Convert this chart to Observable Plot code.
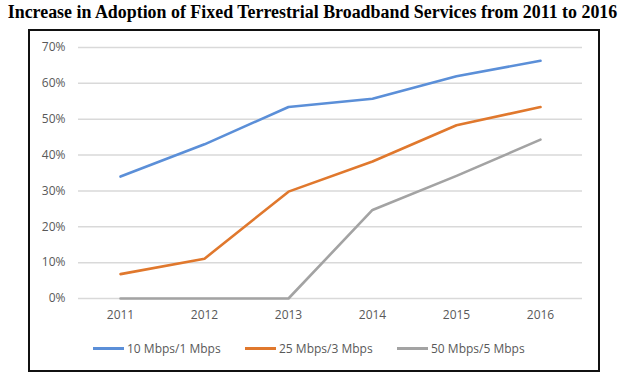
<!DOCTYPE html>
<html>
<head>
<meta charset="utf-8">
<script src="https://cdn.jsdelivr.net/npm/d3@7"></script>
<script src="https://cdn.jsdelivr.net/npm/@observablehq/plot@0.6"></script>
<style>
  html, body { margin: 0; padding: 0; background: #fff; }
  #wrap { position: relative; width: 625px; height: 375px; overflow: hidden; }
  #title { position: absolute; left: 0; top: 2px; width: 625px; text-align: center;
    font-family: "Liberation Serif", "Times New Roman", serif; font-weight: bold; font-size: 17.9px; color: #000; white-space: nowrap; }
  #frame { position: absolute; left: 28px; top: 29px; width: 568px; height: 339px; border: 2px solid #111; }
  #chart { position: absolute; left: 0; top: 0; }
  #legend { position: absolute; top: 340px; left: 0; width: 625px; font-family: "Open Sans", sans-serif; font-size: 12px; color: #595959; }
  .item { position: absolute; display: flex; align-items: center; white-space: nowrap; }
  .swatch { width: 31px; height: 3px; margin-right: 3px; }
</style>
</head>
<body>
<div id="wrap">
  <div id="title">Increase in Adoption of Fixed Terrestrial Broadband Services from 2011 to 2016</div>
  <div id="frame"></div>
  <div id="chart"></div>
  <div id="legend"></div>
</div>
<script>
const years = ["2011", "2012", "2013", "2014", "2015", "2016"];
const seriesNames = ["10 Mbps/1 Mbps", "25 Mbps/3 Mbps", "50 Mbps/5 Mbps"];
const s10 = [0.34, 0.43, 0.534, 0.557, 0.62, 0.663];
const s25 = [0.068, 0.111, 0.298, 0.382, 0.483, 0.534];
const s50 = [0, 0, 0, 0.247, 0.342, 0.443];
const yTicks = [0, 0.1, 0.2, 0.3, 0.4, 0.5, 0.6, 0.7];
const colors = ["#5B8FD8", "#E0782D", "#A3A3A3"];

const allSeries = [s10, s25, s50];
const data = [];
allSeries.forEach((vals, si) => {
  vals.forEach((v, i) => data.push({year: years[i], value: v, series: seriesNames[si]}));
});

const plot = Plot.plot({
  width: 625,
  height: 375,
  marginLeft: 78,
  marginRight: 43,
  marginTop: 47,
  marginBottom: 77,
  style: {fontFamily: "'Open Sans', sans-serif", fontSize: "12px", color: "#595959", background: "transparent"},
  x: {type: "point", domain: years, padding: 0.5, label: null, tickSize: 0, tickPadding: 12},
  y: {domain: [0, 0.7], ticks: yTicks, tickFormat: d3.format(".0%"), label: null, tickSize: 0, tickPadding: 13},
  color: {domain: seriesNames, range: colors},
  marks: [
    Plot.ruleY(yTicks, {stroke: "#d9d9d9", strokeWidth: 1.5}),
    Plot.line(data, {x: "year", y: "value", z: "series", stroke: "series", strokeWidth: 2.6, strokeLinejoin: "round", strokeLinecap: "round"})
  ]
});
document.getElementById("chart").appendChild(plot);

const legend = document.getElementById("legend");
const legendX = [93, 245, 397];
seriesNames.forEach((name, i) => {
  const it = document.createElement("div");
  it.className = "item";
  it.style.left = legendX[i] + "px";
  const sw = document.createElement("span");
  sw.className = "swatch";
  sw.style.background = colors[i];
  const tx = document.createElement("span");
  tx.textContent = name;
  it.appendChild(sw); it.appendChild(tx);
  legend.appendChild(it);
});
</script>
</body>
</html>
